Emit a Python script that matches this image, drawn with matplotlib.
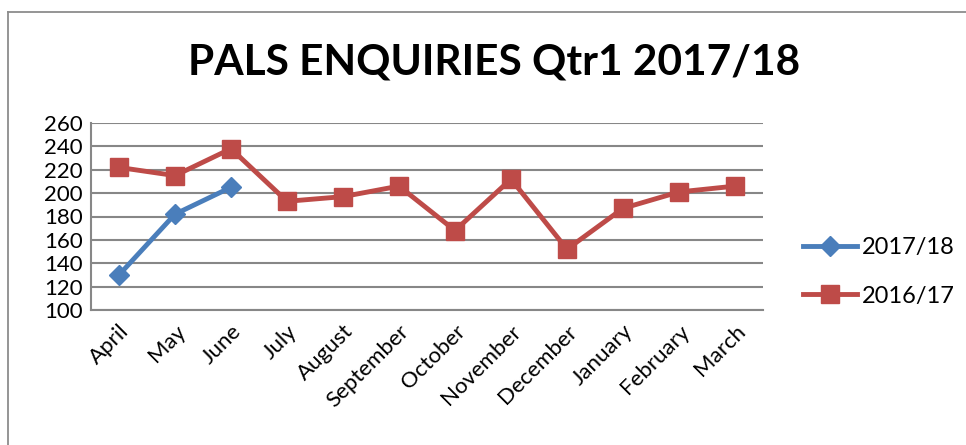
import numpy as np
import matplotlib.pyplot as plt
from matplotlib.lines import Line2D

plt.rcParams['font.family'] = ['Lato', 'DejaVu Sans']

months = ["April", "May", "June", "July", "August", "September", "October",
          "November", "December", "January", "February", "March"]
enq_1718 = [130, 182, 205]
enq_1617 = [222, 215, 238, 193, 197, 206, 168, 212, 152, 187, 201, 206]

fig = plt.figure(figsize=(9.66, 4.45), dpi=100)
# chart-area frame, cut off at the right and bottom like the screenshot
fx, fy = 7.5 / 966, 1 - 11.5 / 445
fig.lines.append(Line2D([fx, fx], [0, fy], transform=fig.transFigure,
                        color='#8c8c8c', linewidth=1.3))
fig.lines.append(Line2D([fx, 1], [fy, fy], transform=fig.transFigure,
                        color='#8c8c8c', linewidth=1.3))

ax = fig.add_axes([91 / 966, 1 - 310 / 445, 672 / 966, 187 / 445])
x = np.arange(len(months))

ax.plot(x[:len(enq_1718)], enq_1718, color='#4a7ebb', linewidth=3.5,
        marker='D', markersize=10.5, label='2017/18', zorder=3)
ax.plot(x, enq_1617, color='#be4b48', linewidth=3.5,
        marker='s', markersize=13.5, label='2016/17', zorder=3)

ax.set_xlim(-0.5, 11.5)
ax.set_ylim(100, 260)
ax.set_yticks(range(100, 261, 20))
ax.set_xticks(x)
ax.set_xticklabels(months, rotation=45, ha='right', rotation_mode='anchor')
ax.tick_params(axis='both', length=0, labelsize=16)
ax.tick_params(axis='y', pad=6)
ax.tick_params(axis='x', pad=8)
ax.grid(axis='y', color='#878787', linewidth=1.5)
ax.set_axisbelow(True)
for s in ['top', 'right']:
    ax.spines[s].set_visible(False)
for s in ['left', 'bottom']:
    ax.spines[s].set_color('#878787')
    ax.spines[s].set_linewidth(1.5)

fig.text(0.511, 1 - 62 / 445, "PALS ENQUIRIES Qtr1 2017/18", ha='center',
         va='center', fontsize=30.5, fontweight='bold')

ax.legend(loc='center left', bbox_to_anchor=((803 - 91) / 672, 38 / 187),
          frameon=False, fontsize=17, handlelength=2.3, handletextpad=0.2,
          labelspacing=1.15, borderpad=0, borderaxespad=0)

fig.savefig('out.png', dpi=100)
